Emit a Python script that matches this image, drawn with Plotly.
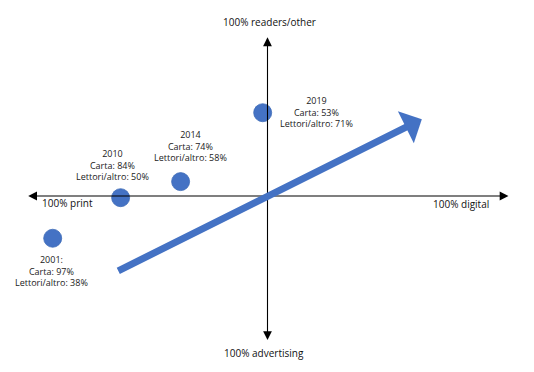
import plotly.graph_objects as go

# ---- data (positions, in chart units; centre = 0) ----
years = ["2001:", "2010", "2014", "2019"]
carta = [97, 84, 74, 53]          # % print
lettori = [38, 50, 58, 71]        # % readers/other
x_pos = [-89.5, -61.2, -36.2, -2.0]
y_pos = [-17.6, -0.7, 6.0, 34.7]

axis_labels = ["100% readers/other", "100% advertising", "100% print", "100% digital"]

# trend arrow (start -> end), chart units
trend_x = [-62.8, 64.3]
trend_y = [-31.5, 32.0]

# axis extents
x_ext = [-99.7, 100.4]
y_ext = [-60.0, 66.1]

BLUE = "#4472C4"
FONT = "Open Sans"

fig = go.Figure()

fig.add_trace(go.Scatter(
    x=x_pos, y=y_pos, mode="markers",
    marker=dict(size=18, color=BLUE, line=dict(color="#3f6cb8", width=0.8)),
    hoverinfo="skip", showlegend=False,
))

annotations = []
# axes with arrowheads (from centre to each end)
for ex, ey in [(x_ext[0], 0), (x_ext[1], 0), (0, y_ext[0]), (0, y_ext[1])]:
    annotations.append(dict(
        x=ex, y=ey, ax=0, ay=0, xref="x", yref="y", axref="x", ayref="y",
        text="", showarrow=True, arrowhead=2, arrowsize=1.6, arrowwidth=1.1,
        arrowcolor="#000000",
    ))

# trend arrow
annotations.append(dict(
    x=trend_x[1], y=trend_y[1], ax=trend_x[0], ay=trend_y[0],
    xref="x", yref="y", axref="x", ayref="y",
    text="", showarrow=True, arrowhead=1, arrowsize=0.85, arrowwidth=7,
    arrowcolor=BLUE,
))

# axis labels
ax_lab_pos = [(0.7, 72.5), (-1.5, -65.5), (-83.5, -3.0), (80.5, -3.3)]
for lab, (lx, ly) in zip(axis_labels, ax_lab_pos):
    annotations.append(dict(
        x=lx, y=ly, xref="x", yref="y", text=lab, showarrow=False,
        xanchor="center", yanchor="middle",
        font=dict(family=FONT, size=10, color="#111111"),
    ))

# point labels
shifts = [(-1, -33), (-8, 33), (10, 36), (54, 1)]
for yr, c, l, px, py, (sx, sy) in zip(years, carta, lettori, x_pos, y_pos, shifts):
    annotations.append(dict(
        x=px, y=py, xref="x", yref="y",
        text=f"{yr}<br>Carta: {c}%<br>Lettori/altro: {l}%",
        showarrow=False, xanchor="center", yanchor="middle",
        xshift=sx, yshift=sy, align="center",
        font=dict(family=FONT, size=9, color="#1a1a1a"),
    ))

fig.update_layout(
    width=534, height=372,
    margin=dict(l=0, r=0, t=0, b=0),
    paper_bgcolor="white", plot_bgcolor="white",
    xaxis=dict(range=[-111.46, 111.04], visible=False, fixedrange=True),
    yaxis=dict(range=[-73.33, 81.67], visible=False, fixedrange=True),
    annotations=annotations,
    showlegend=False,
)

fig.write_html("out.html", config={"displayModeBar": False},
               post_script="document.body.style.margin='0';document.body.style.overflow='hidden';")
